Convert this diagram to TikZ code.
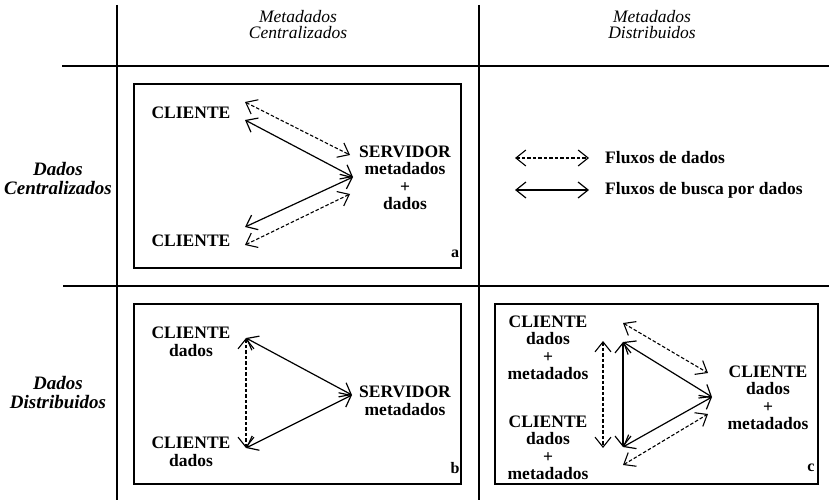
\documentclass[tikz,border=0pt]{standalone}
\usepackage{fontspec}
\setmainfont{Liberation Serif}
\usetikzlibrary{arrows.meta}
\begin{document}
\begin{tikzpicture}[x=1pt,y=-1pt,
  >={Straight Barb[length=10pt,width=16pt]},
  rule/.style={line width=1.4pt},
  panel/.style={line width=1.2pt},
  lbl/.style={font=\fontsize{17.5}{17.5}\selectfont\bfseries, align=center, inner sep=0pt},
  tag/.style={font=\fontsize{16}{16}\selectfont\bfseries, inner sep=0pt},
  legtext/.style={font=\fontsize{17.5}{17.5}\selectfont\bfseries, anchor=west, inner sep=0pt},
  colhead/.style={font=\fontsize{17.5}{16}\selectfont\itshape, align=center, inner sep=0pt},
  rowhead/.style={font=\fontsize{19}{19}\selectfont\bfseries\itshape, align=center, inner sep=0pt},
  busca/.style={line width=1.2pt, <->},
  fluxo/.style={busca, line width=1.1pt, dash pattern=on 3.5pt off 2pt},
]
\useasboundingbox (0,0) rectangle (829,500);

% table rules
\coordinate (v1t) at (117,5);   \coordinate (v1b) at (117,500);
\coordinate (v2t) at (479,5);   \coordinate (v2b) at (479,500);
\coordinate (h1l) at (62,66);   \coordinate (h1r) at (829,66);
\coordinate (h2l) at (63,286);  \coordinate (h2r) at (829,286);
\draw[rule] (v1t) -- (v1b);
\draw[rule] (v2t) -- (v2b);
\draw[rule] (h1l) -- (h1r);
\draw[rule] (h2l) -- (h2r);

% headers
\node[colhead] (colC) at (298,25) {Metadados\\Centralizados};
\node[colhead] (colD) at (652,25) {Metadados\\Distribuidos};
\node[rowhead] (rowC) at (58,179) {Dados\\Centralizados};
\node[rowhead] (rowD) at (58,393) {Dados\\Distribuidos};

% panel frames
\draw[panel] (134,84) rectangle (461,268);
\draw[panel] (134,304) rectangle (461,484);
\draw[panel] (495,304) rectangle (818,484);
\node[tag] (taga) at (455,254) {a};
\node[tag] (tagb) at (455,468) {b};
\node[tag] (tagc) at (811,468) {c};

% panel a: centralized data and metadata
\node[lbl] (a1) at (191,113) {CLIENTE};
\node[lbl] (a2) at (191,241) {CLIENTE};
\node[lbl] (as) at (405,178) {SERVIDOR\\metadados\\+\\dados};
\coordinate (a1s) at (245,120); \coordinate (a1d) at (245,102);
\coordinate (a2s) at (245,227); \coordinate (a2d) at (245,245);
\coordinate (ass) at (353,177);
\coordinate (asd1) at (350,155); \coordinate (asd2) at (350,194);
\draw[busca] (a1s) -- (ass);
\draw[busca] (a2s) -- (ass);
\draw[fluxo] (a1d) -- (asd1);
\draw[fluxo] (a2d) -- (asd2);

% legend
\coordinate (ld1) at (515,158); \coordinate (ld2) at (589,158);
\coordinate (ls1) at (515,190); \coordinate (ls2) at (589,190);
\draw[fluxo] (ld1) -- (ld2);
\draw[busca] (ls1) -- (ls2);
\node[legtext] (legd) at (605,158) {Fluxos de dados};
\node[legtext] (legs) at (605,190) {Fluxos de busca por dados};

% panel b: distributed data, central metadata
\node[lbl] (b1) at (191,342) {CLIENTE\\dados};
\node[lbl] (b2) at (191,452) {CLIENTE\\dados};
\node[lbl] (bs) at (405,401) {SERVIDOR\\metadados};
\coordinate (b1v) at (246,338);
\coordinate (b2v) at (246,448);
\coordinate (bsv) at (352,395);
\draw[busca] (b1v) -- (bsv);
\draw[busca] (b2v) -- (bsv);
\draw[fluxo] (b1v) -- (b2v);

% panel c: everything distributed
\node[lbl] (c1) at (548,348) {CLIENTE\\dados\\+\\metadados};
\node[lbl] (c2) at (548,448) {CLIENTE\\dados\\+\\metadados};
\node[lbl] (c3) at (768,398) {CLIENTE\\dados\\+\\metadados};
\coordinate (c1v) at (623,342);
\coordinate (c2v) at (623,447);
\coordinate (c3v) at (712,397);
\coordinate (c1d) at (623,323); \coordinate (c3d1) at (708,373);
\coordinate (c2d) at (623,465); \coordinate (c3d2) at (708,414);
\coordinate (cvt) at (603,341); \coordinate (cvb) at (603,448);
\draw[busca] (c1v) -- (c3v);
\draw[busca] (c2v) -- (c3v);
\draw[busca] (c1v) -- (c2v);
\draw[fluxo] (cvt) -- (cvb);
\draw[fluxo] (c1d) -- (c3d1);
\draw[fluxo] (c2d) -- (c3d2);
\end{tikzpicture}
\end{document}
